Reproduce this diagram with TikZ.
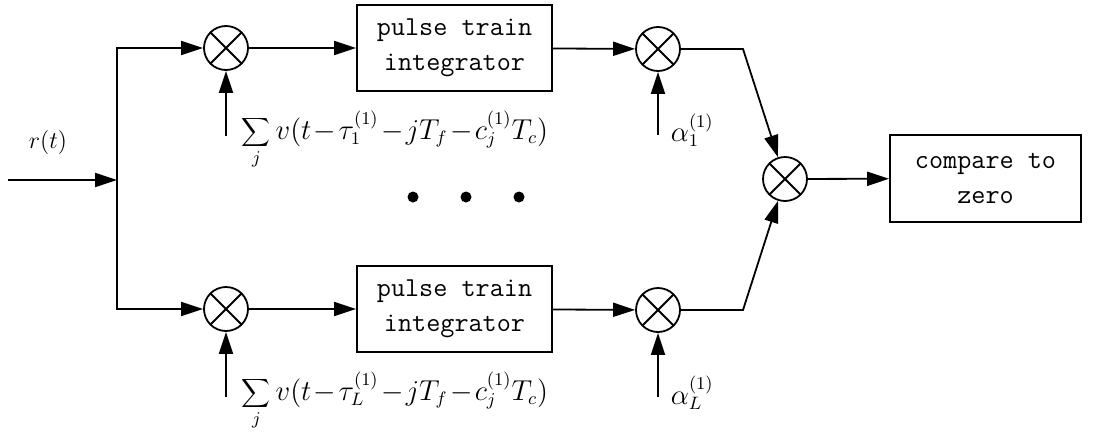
\documentclass[tikz,border=0pt]{standalone}
\usetikzlibrary{arrows.meta}

\begin{document}
\begin{tikzpicture}[x=0.5pt, y=-0.5pt, line width=0.9pt,
    mixer/.style={circle, draw, minimum size=22pt, inner sep=0pt,
      path picture={\draw (path picture bounding box.north west) -- (path picture bounding box.south east)
        (path picture bounding box.north east) -- (path picture bounding box.south west);}},
    block/.style={draw, minimum width=97.5pt, minimum height=43pt, align=center,
      font=\fontsize{13.7}{17.5}\selectfont\ttfamily},
    sig/.style={-{Triangle[length=11pt,width=7pt]}},
    lbl/.style={inner sep=0pt, font=\fontsize{13.5}{16}\selectfont}]
  \useasboundingbox (0,0) rectangle (1098,434);

  % Input and split point
  \coordinate (in) at (8,180);
  \coordinate (split) at (117,180);
  \node[lbl, font=\fontsize{13}{15}\selectfont] (rt) at (48,142) {$r(t)$};

  % Upper branch (finger 1)
  \node[mixer] (mixA) at (226,48) {};
  \node[block] (intA) at (454.5,48) {pulse train\\integrator};
  \node[mixer] (wA) at (658,49) {};
  \coordinate (tplA) at (226,136);
  \coordinate (alA) at (658,135);
  \coordinate (kA) at (743,49);
  \node[lbl, anchor=west] (sumA) at (241,140)
    {$\medmuskip=1.5mu\relax\displaystyle\sum_j v(t-\tau_1^{(1)}-jT_f-c_j^{(1)}T_c)$};
  \node[lbl, anchor=west] (alphaA) at (670,130) {$\alpha_1^{(1)}$};

  % Lower branch (finger L)
  \node[mixer] (mixB) at (226,309) {};
  \node[block] (intB) at (454.5,309) {pulse train\\integrator};
  \node[mixer] (wB) at (658,310) {};
  \coordinate (tplB) at (226,397);
  \coordinate (alB) at (658,397);
  \coordinate (kB) at (743,310);
  \node[lbl, anchor=west] (sumB) at (241,401)
    {$\medmuskip=1.5mu\relax\displaystyle\sum_j v(t-\tau_L^{(1)}-jT_f-c_j^{(1)}T_c)$};
  \node[lbl, anchor=west] (alphaB) at (670,393) {$\alpha_L^{(1)}$};

  % Dots between the branches
  \fill (413,197) circle (5.5);
  \fill (466,197) circle (5.5);
  \fill (519,197) circle (5.5);

  % Combiner and decision
  \node[mixer] (comb) at (785,179) {};
  \node[block, minimum width=95.5pt, minimum height=43.5pt] (cmp) at (985.5,178.5) {compare to\\zero};

  % Connectors
  \draw[sig] (in) -- (split);
  \draw[sig] (split) |- (mixA);
  \draw[sig] (split) |- (mixB);
  \draw[sig] (mixA) -- (intA);
  \draw[sig] (mixB) -- (intB);
  \draw[sig] (tplA) -- (mixA);
  \draw[sig] (tplB) -- (mixB);
  \draw[sig] (intA) -- (wA);
  \draw[sig] (intB) -- (wB);
  \draw[sig] (alA) -- (wA);
  \draw[sig] (alB) -- (wB);
  \draw[sig] (wA) -- (kA) -- (comb);
  \draw[sig] (wB) -- (kB) -- (comb);
  \draw[sig] (comb) -- (cmp);
\end{tikzpicture}
\end{document}
